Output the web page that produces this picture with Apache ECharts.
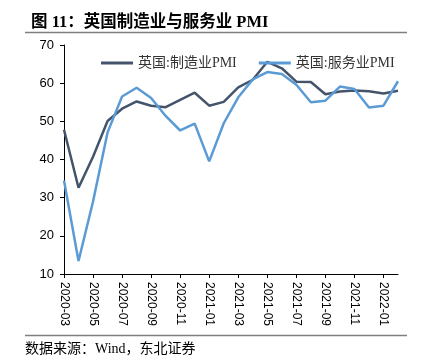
<!DOCTYPE html>
<html><head><meta charset="utf-8">
<script src="https://cdn.jsdelivr.net/npm/echarts@6/dist/echarts.min.js"></script>
<style>html,body{margin:0;padding:0;background:#fff}#c{width:423px;height:364px}</style>
</head><body><div id="c"></div>
<script>
const months = ['2020-03','2020-04','2020-05','2020-06','2020-07','2020-08','2020-09','2020-10','2020-11','2020-12',
 '2021-01','2021-02','2021-03','2021-04','2021-05','2021-06','2021-07','2021-08','2021-09','2021-10','2021-11','2021-12',
 '2022-01','2022-02'];
const manufacturing = [47.8,32.6,40.7,50.1,53.3,55.2,54.1,53.7,55.6,57.5,54.1,55.1,58.9,60.9,65.6,63.9,60.4,60.3,57.1,57.8,58.1,57.9,57.3,58.0];
const services = [34.5,13.4,29.0,47.1,56.5,58.8,56.1,51.4,47.6,49.4,39.5,49.5,56.3,61.0,62.9,62.4,59.6,55.0,55.4,59.1,58.5,53.6,54.1,60.5];
const seriesNames = ['英国:制造业PMI','英国:服务业PMI'];
const yTicks = {min:10,max:70,interval:10};

const chart = echarts.init(document.getElementById('c'));
const serif = '"Liberation Serif","Noto Sans CJK SC",serif';
const sans = '"Liberation Sans","DejaVu Sans",sans-serif';
chart.setOption({
  animation:false,
  backgroundColor:'#fff',
  title:{text:'图 11：英国制造业与服务业 PMI',left:26,top:9,
    textStyle:{fontFamily:serif,fontSize:16.5,fontWeight:'bold',color:'#000'}},
  graphic:[
    {type:'line',shape:{x1:25,y1:32.5,x2:407,y2:32.5},style:{stroke:'#7f7f7f',lineWidth:1.5}},
    {type:'line',shape:{x1:25,y1:335.5,x2:407,y2:335.5},style:{stroke:'#7f7f7f',lineWidth:1.5}},
    {type:'text',left:25,top:342,style:{text:'数据来源：Wind，东北证券',font:'14px '+serif,fill:'#000'}}
  ],
  legend:{top:51,left:96,itemWidth:32,itemHeight:3,itemGap:22,icon:'rect',
    textStyle:{fontFamily:serif,fontSize:14,color:'#333'},
    data:seriesNames},
  grid:{left:64,right:25,top:45,bottom:90,containLabel:false},
  xAxis:{type:'category',data:months,boundaryGap:false,
    axisLine:{lineStyle:{color:'#000',width:1}},
    axisTick:{interval:1,length:4,lineStyle:{color:'#000'}},
    axisLabel:{interval:1,rotate:-90,fontFamily:sans,fontSize:12,color:'#000',margin:8}},
  yAxis:{type:'value',min:yTicks.min,max:yTicks.max,interval:yTicks.interval,
    axisLine:{show:true,lineStyle:{color:'#000'}},
    axisTick:{show:true,length:4,lineStyle:{color:'#000'}},
    splitLine:{show:false},
    axisLabel:{fontFamily:sans,fontSize:13,color:'#000',margin:10}},
  series:[
    {name:seriesNames[0],type:'line',data:manufacturing,symbol:'none',
      lineStyle:{color:'#44546A',width:2.5},itemStyle:{color:'#44546A'}},
    {name:seriesNames[1],type:'line',data:services,symbol:'none',
      lineStyle:{color:'#5B9BD5',width:2.5},itemStyle:{color:'#5B9BD5'}}
  ]
});
</script></body></html>
